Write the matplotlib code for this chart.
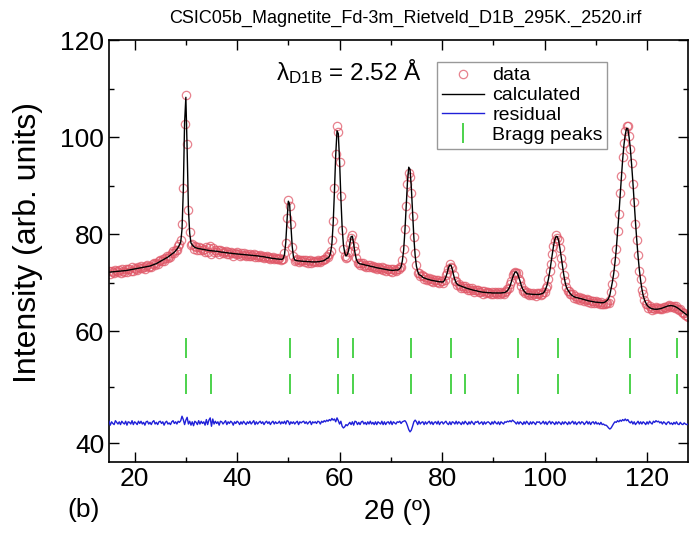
import numpy as np
import matplotlib
matplotlib.use("Agg")
import matplotlib.pyplot as plt

plt.rcParams['font.family'] = ['Liberation Sans', 'DejaVu Sans']
plt.rcParams['mathtext.default'] = 'regular'

# 2theta grid of the pattern (deg), step 0.25
two_theta = np.arange(15.0, 128.001, 0.25)

# calculated profile (4 values per degree)
calc = [
    72.2, 72.2, 72.25, 72.25,  72.3, 72.3, 72.35, 72.35,  72.4, 72.4, 72.45, 72.45,
    72.5, 72.5, 72.55, 72.6,  72.65, 72.7, 72.75, 72.8,  72.85, 72.9, 72.95, 73.0,
    73.05, 73.1, 73.15, 73.2,  73.25, 73.3, 73.35, 73.4,  73.45, 73.55, 73.65, 73.75,
    73.85, 73.95, 74.1, 74.25,  74.4, 74.55, 74.7, 74.85,  75.0, 75.15, 75.3, 75.5,
    75.7, 75.9, 76.1, 76.3,  76.6, 76.9, 77.3, 77.8,  78.4, 81.0, 89.0, 102.9,
    108.2, 97.5, 85.2, 80.2,  78.2, 77.8, 77.5, 77.3,  77.2, 77.1, 77.05, 77.0,
    76.95, 76.9, 76.85, 76.8,  76.75, 76.7, 76.65, 76.6,  76.6, 76.55, 76.55, 76.5,
    76.5, 76.45, 76.4, 76.35,  76.3, 76.3, 76.25, 76.2,  76.2, 76.15, 76.1, 76.1,
    76.05, 76.0, 76.0, 75.95,  75.95, 75.9, 75.9, 75.85,  75.85, 75.8, 75.8, 75.75,
    75.75, 75.7, 75.7, 75.65,  75.65, 75.6, 75.6, 75.55,  75.55, 75.5, 75.45, 75.4,
    75.4, 75.35, 75.3, 75.25,  75.2, 75.15, 75.1, 75.05,  75.0, 75.0, 74.95, 74.9,
    74.9, 74.85, 74.85, 74.8,  75.0, 75.8, 78.35, 82.95,  86.8, 86.2, 81.9, 77.55,
    75.35, 74.7, 74.6, 74.55,  74.5, 74.5, 74.45, 74.45,  74.4, 74.4, 74.4, 74.35,
    74.35, 74.35, 74.3, 74.3,  74.3, 74.3, 74.3, 74.35,  74.35, 74.4, 74.45, 74.5,
    74.6, 74.8, 75.0, 75.1,  75.4, 76.2, 78.0, 82.2,  88.9, 96.4, 101.3, 100.7,
    95.1, 87.6, 81.4, 77.8,  76.2, 75.5, 75.8, 76.6,  78.1, 79.5, 79.6, 78.0,
    76.2, 74.9, 74.3, 74.0,  73.9, 73.85, 73.8, 73.75,  73.65, 73.6, 73.55, 73.5,
    73.4, 73.35, 73.3, 73.25,  73.15, 73.1, 73.05, 73.0,  72.95, 72.9, 72.85, 72.8,
    72.75, 72.7, 72.65, 72.6,  72.6, 72.55, 72.55, 72.6,  72.65, 72.6, 72.7, 72.9,
    73.3, 74.5, 76.7, 80.65,  85.7, 90.75, 93.8, 93.35,  89.7, 84.35, 79.3, 75.6,
    73.4, 72.35, 71.7, 71.55,  71.4, 71.1, 71.0, 70.9,  70.8, 70.7, 70.65, 70.55,
    70.5, 70.45, 70.4, 70.35,  70.3, 70.25, 70.2, 70.2,  70.15, 70.2, 70.55, 71.2,
    72.05, 73.1, 73.65, 73.6,  72.75, 71.6, 70.65, 70.0,  69.65, 69.5, 69.4, 69.3,
    69.2, 69.1, 69.0, 68.9,  68.8, 68.75, 68.65, 68.6,  68.5, 68.45, 68.4, 68.35,
    68.25, 68.2, 68.15, 68.1,  68.05, 68.05, 68.0, 68.0,  67.95, 67.95, 67.95, 67.9,
    67.9, 67.9, 67.9, 67.9,  67.9, 67.9, 67.9, 67.95,  67.95, 68.0, 68.15, 68.35,
    68.75, 69.3, 70.1, 71.0,  71.7, 72.2, 72.25, 71.85,  71.05, 70.25, 69.3, 68.7,
    68.3, 68.0, 67.75, 67.7,  67.7, 67.65, 67.65, 67.6,  67.6, 67.6, 67.6, 67.6,
    67.6, 67.7, 67.75, 67.9,  68.2, 68.8, 69.55, 70.7,  72.2, 74.0, 75.8, 77.55,
    78.9, 79.55, 79.5, 78.65,  77.15, 75.35, 73.4, 71.7,  70.2, 69.15, 68.6, 68.2,
    67.8, 67.5, 67.3, 67.15,  67.0, 66.95, 66.9, 66.8,  66.75, 66.7, 66.6, 66.55,
    66.45, 66.4, 66.3, 66.25,  66.2, 66.15, 66.1, 66.05,  66.0, 66.0, 65.95, 65.95,
    65.9, 65.9, 65.9, 66.0,  66.2, 66.4, 66.8, 67.5,  68.9, 70.2, 71.9, 74.2,
    76.9, 80.3, 83.9, 87.9,  91.7, 95.4, 98.4, 100.5,  101.8, 101.7, 100.0, 97.6,
    94.3, 90.6, 86.5, 82.5,  78.8, 75.5, 72.7, 70.5,  68.7, 67.4, 66.5, 65.9,
    65.4, 65.1, 64.9, 64.75,  64.65, 64.6, 64.55, 64.55,  64.55, 64.6, 64.65, 64.7,
    64.8, 64.9, 65.0, 65.1,  65.2, 65.25, 65.3, 65.3,  65.25, 65.2, 65.1, 64.95,
    64.8, 64.6, 64.4, 64.2,  64.0, 63.8, 63.6, 63.4,  63.2,
]

diff = [
    0.3, -0.4, 0.2, -0.1,  -0.3, 0.4, 0.1, -0.2,  0.2, -0.3, 0.3, 0.0,
    -0.2, 0.3, -0.4, 0.2,  0.1, -0.2, 0.4, -0.3,  0.2, 0.0, -0.3, 0.3,
    -0.1, 0.3, -0.2, 0.1,  -0.4, 0.2, 0.3, -0.2,  0.1, -0.3, 0.2, 0.4,
    -0.2, 0.1, -0.3, 0.2,  0.3, -0.1, 0.2, -0.4,  0.1, 0.3, -0.2, 0.0,
    -0.3, 0.2, 0.4, -0.1,  0.2, -0.2, 0.3, 0.1,  0.4, 1.2, 0.6, -0.3,
    0.5, 1.0, -0.2, 0.3,  -0.4, 0.2, -0.5, 0.3,  0.1, -0.3, 0.4, -0.2,
    0.3, -0.1, 0.2, -0.4,  0.6, -0.3, 0.5, 0.9,  -0.6, 0.7, -0.2, 0.3,
    -0.1, 0.2, -0.4, 0.3,  0.2, -0.2, 0.1, 0.4,  -0.3, 0.2, -0.1, 0.3,
    0.1, -0.4, 0.2, -0.1,  0.3, 0.1, -0.3, 0.2,  -0.2, 0.3, 0.0, -0.3,
    0.2, -0.1, 0.3, -0.2,  0.1, 0.4, -0.3, 0.2,  -0.2, 0.1, 0.3, -0.1,
    0.2, -0.3, 0.1, 0.3,  -0.1, 0.2, -0.3, 0.1,  0.3, -0.2, 0.2, -0.1,
    0.0, 0.3, -0.2, 0.2,  -0.1, 0.3, -0.2, 0.4,  0.3, -0.3, 0.2, -0.1,
    0.2, -0.2, 0.1, 0.3,  -0.3, 0.2, 0.0, 0.2,  0.3, -0.1, 0.2, -0.2,
    0.1, 0.3, -0.3, 0.2,  0.0, 0.2, -0.1, 0.3,  0.2, -0.2, 0.3, 0.1,
    0.4, 0.2, 0.5, 0.3,  0.6, 0.4, 0.8, 0.5,  0.7, 0.2, 0.9, 0.4,
    -0.2, 0.3, -0.6, -0.9,  -0.7, -0.3, -0.5, -0.2,  0.1, -0.3, 0.2, -0.4,
    0.3, 0.2, -0.3, 0.1,  -0.3, 0.2, 0.3, -0.2,  0.1, -0.3, 0.2, -0.2,
    0.3, -0.2, 0.1, -0.3,  0.2, -0.3, 0.2, 0.0,  -0.2, 0.3, -0.3, 0.2,
    -0.3, 0.1, 0.2, -0.2,  0.3, -0.3, 0.2, 0.0,  -0.2, 0.2, 0.1, 0.3,
    -0.1, 0.2, 0.3, 0.4,  0.1, -0.5, -1.2, -1.6,  -1.3, -0.6, 0.2, 0.5,
    0.2, -0.3, 0.3, -0.2,  0.1, 0.2, -0.3, 0.2,  -0.2, 0.1, 0.3, -0.2,
    0.2, -0.3, 0.1, 0.2,  -0.2, 0.3, -0.3, 0.1,  0.2, -0.2, 0.1, 0.3,
    -0.1, -0.3, 0.2, -0.3,  0.2, 0.1, -0.2, 0.3,  -0.2, 0.2, 0.0, -0.3,
    0.2, -0.2, 0.3, 0.0,  -0.3, 0.2, -0.2, 0.3,  0.0, -0.3, 0.2, 0.1,
    0.3, -0.2, 0.0, 0.2,  -0.3, 0.2, -0.2, 0.1,  0.2, 0.0, -0.3, 0.2,
    -0.2, 0.3, 0.0, -0.2,  0.2, -0.3, 0.2, 0.0,  -0.2, 0.2, 0.1, 0.3,
    0.2, 0.4, 0.2, 0.5,  0.3, 0.1, -0.2, 0.2,  -0.2, 0.2, 0.0, -0.3,
    0.2, -0.2, 0.3, 0.0,  -0.3, 0.2, -0.2, 0.2,  0.0, -0.3, 0.2, 0.1,
    0.2, -0.2, 0.0, 0.3,  -0.2, 0.2, -0.3, 0.1,  0.3, -0.2, 0.2, 0.0,
    -0.3, 0.2, -0.2, 0.2,  0.0, -0.3, 0.2, -0.2,  0.2, 0.0, -0.3, 0.2,
    -0.2, 0.1, 0.3, -0.2,  0.2, -0.3, 0.0, 0.2,  -0.2, 0.2, 0.1, -0.3,
    0.0, 0.3, -0.2, 0.2,  -0.3, 0.1, 0.2, -0.2,  0.2, -0.2, 0.0, -0.3,
    0.1, -0.3, -0.2, -0.4,  -0.4, -0.6, -0.9, -1.1,  -0.9, -0.5, -0.1, 0.2,
    0.1, 0.4, 0.2, 0.5,  0.3, 0.6, 0.4, 0.7,  0.4, 0.6, 0.2, 0.0,
    0.3, -0.2, 0.2, -0.3,  0.0, 0.3, -0.2, 0.2,  -0.2, 0.2, 0.0, -0.3,
    0.2, -0.2, 0.3, 0.0,  -0.2, 0.3, 0.1, 0.4,  0.2, 0.3, 0.0, 0.2,
    -0.2, 0.2, 0.0, -0.3,  0.1, 0.2, -0.2, 0.0,  -0.3, 0.1, -0.2, 0.2,
    -0.2, -0.3, 0.1, -0.2,  -0.3, 0.0, -0.2, -0.3,  -0.2,
]

resid_offset = 43.6

# Bragg reflection positions (deg): nuclear row and magnetic row
bragg_nuc = [30.0, 50.3, 59.7, 62.7, 73.9, 81.8, 94.8, 102.7, 116.7, 125.9]
bragg_mag = [30.0, 34.9, 50.3, 59.7, 62.7, 73.9, 81.8, 84.4, 94.8, 102.7, 116.7, 125.9]
bragg_rows = [57.0, 50.5]

calc = np.array(calc)
diff = np.array(diff)
obs = calc + diff
resid = resid_offset + diff

# lower part of the y axis (below 60) is drawn a bit stretched in the original
k = 1.15
def fwd(y):
    y = np.asarray(y, dtype=float)
    return np.where(y >= 60, y, 60 - k * (60 - y))
def inv(t):
    t = np.asarray(t, dtype=float)
    return np.where(t >= 60, t, 60 - (60 - t) / k)

fig = plt.figure(figsize=(6.93, 5.34), dpi=100)
ax = fig.add_axes([109 / 693, 1 - 462 / 534, 579 / 693, 422 / 534])
ax.set_yscale('function', functions=(fwd, inv))

ax.plot(two_theta, obs, 'o', ms=6, mfc='none', mec='#e05868', mew=0.9, alpha=0.75,
        label='data', zorder=2)
ax.plot(two_theta, calc, '-', color='black', lw=1.0, label='calculated', zorder=3)
ax.plot(two_theta, resid, '-', color='#2020d8', lw=1.0, label='residual', zorder=3)
ax.plot(bragg_nuc, [bragg_rows[0]] * len(bragg_nuc), '|', color='#4cd24c', ms=14,
        mew=1.4, label='Bragg peaks', zorder=3)
ax.plot(bragg_mag, [bragg_rows[1]] * len(bragg_mag), '|', color='#4cd24c', ms=14,
        mew=1.4, zorder=3)

ax.set_xlim(15, 128)
ax.set_ylim(36.6, 120)
ax.set_xticks([20, 40, 60, 80, 100, 120])
ax.set_xticks([30, 50, 70, 90, 110], minor=True)
ax.set_yticks([40, 60, 80, 100, 120])
ax.set_yticks([50, 70, 90, 110], minor=True)
ax.tick_params(which='both', direction='in', top=True, right=True, labelsize=19, width=1)
ax.tick_params(which='major', length=7)
ax.tick_params(which='minor', length=3.5)
for s in ax.spines.values():
    s.set_linewidth(1.2)

ax.set_ylabel('Intensity (arb. units)', fontsize=23)
ax.yaxis.set_label_coords(-0.114, 0.52)
ax.set_xlabel('2θ (º)', fontsize=20)
ax.xaxis.set_label_coords(0.498, -0.088)

ax.text(47.5, 113.4, r'λ$_{D1B}$ = 2.52 Å', fontsize=17.5, va='center', ha='left')
fig.text(405 / 693, 1 - 18 / 534, 'CSIC05b_Magnetite_Fd-3m_Rietveld_D1B_295K._2520.irf',
         fontsize=13, ha='center', va='center')
fig.text(84 / 693, 1 - 510 / 534, '(b)', fontsize=19, ha='center', va='center')

leg = ax.legend(loc='upper left', bbox_to_anchor=(0.566, 0.948), fontsize=14,
                frameon=True, fancybox=False, edgecolor='#999999', framealpha=1,
                borderpad=0.25, labelspacing=0.12, handlelength=2.2, handletextpad=0.4,
                borderaxespad=0)

fig.savefig('out.png', dpi=100)
